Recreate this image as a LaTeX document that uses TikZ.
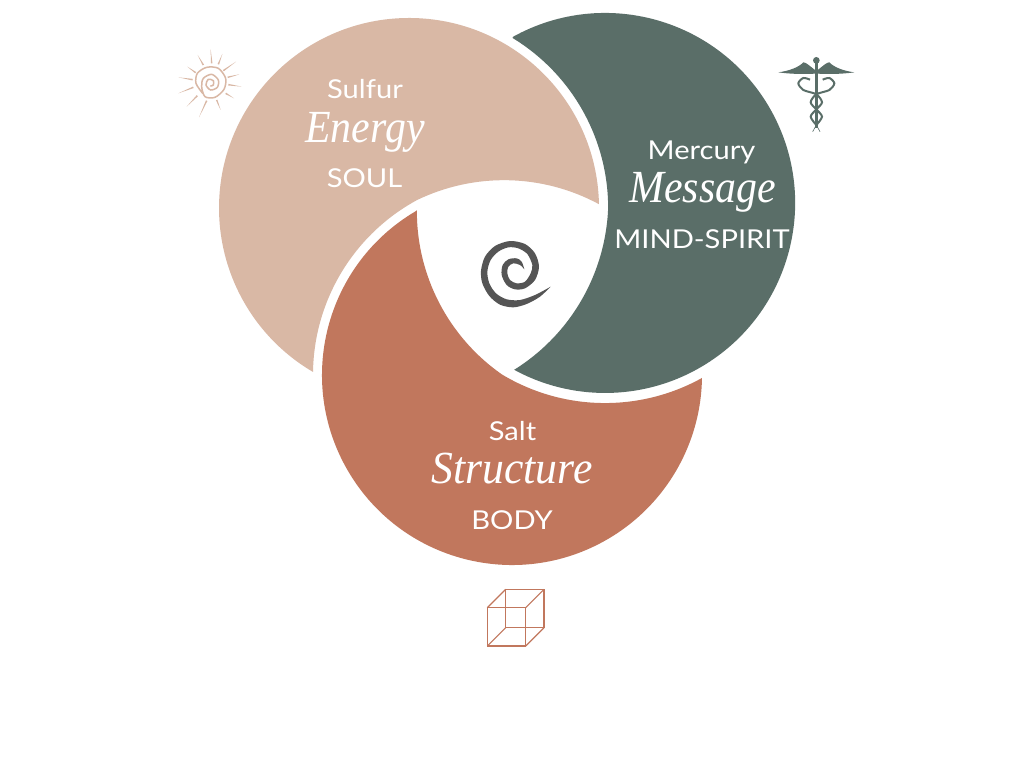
\documentclass[tikz,border=0pt]{standalone}
\usepackage{fontspec}
\usetikzlibrary{calc}
\newfontfamily\labelfont[FakeStretch=1.12]{Lato}
\newfontfamily\bigfontA[FakeStretch=0.91]{Liberation Serif}
\newfontfamily\bigfontB[FakeStretch=0.95]{Liberation Serif}
\definecolor{tanc}{HTML}{D9B8A5}
\definecolor{greenc}{HTML}{5A6E68}
\definecolor{saltc}{HTML}{C1775D}
\definecolor{spiralc}{HTML}{555555}
\tikzset{
  small/.style={text=white,inner sep=0pt,anchor=base,font=\labelfont\fontsize{26}{30}\selectfont},
  big/.style={text=white,inner sep=0pt,anchor=base,font=\bigfontA\itshape\fontsize{46}{52}\selectfont},
  bigwide/.style={text=white,inner sep=0pt,anchor=base,font=\bigfontB\itshape\fontsize{46}{52}\selectfont},
  ray/.style={fill=tanc,draw=none}
}
\begin{document}
\begin{tikzpicture}[x=1pt,y=1pt,yscale=-1]
\useasboundingbox (0,0) rectangle (1024,768);
\fill[white] (0,0) rectangle (1024,768);
% three shapes
\fill[tanc] (598.96,204) arc[start angle=-1.2,end angle=-239.65,radius=190]
  arc[start angle=180.86,end angle=241.5,radius=199]
  arc[start angle=244.24,end angle=298.3,radius=200] -- cycle;
\fill[greenc] (513,36.8) arc[start angle=241,end angle=478.6,radius=190]
  arc[start angle=58.04,end angle=2.26,radius=200]
  arc[start angle=0,end angle=-58.7,radius=199] -- cycle;
\fill[saltc] (416,211.04) arc[start angle=-120.35,end angle=-359.1,radius=190]
  arc[start angle=61,end angle=121,radius=200]
  arc[start angle=124.9,end angle=180.3,radius=199] -- cycle;
% centre spiral
\begin{scope}[shift={(470,230)},scale=1/3]
\fill[spiralc] plot[smooth] coordinates {(242,170) (210,200) (170,222) (130,232) (90,224) (58,198) (37,160) (33,122) (45,80) (75,48) (120,33) (165,42) (195,70) (207,110) (195,150) (165,175) (135,178) (110,165) (95,135) (98,105) (115,88) (140,85) (155,95) (163,118)}
 -- plot[smooth] coordinates {(163,118) (150,105) (130,100) (115,110) (112,130) (120,150) (140,160) (165,155) (182,130) (187,105) (172,72) (145,55) (115,52) (85,65) (62,90) (52,125) (58,160) (78,190) (110,208) (150,210) (195,195) (242,170)} -- cycle;
\end{scope}
% sun
\begin{scope}[shift={(160,30)},scale=1/3]
\foreach \tx/\ty/\bx/\by in {152/58/155/100,187/72/175/103,228/95/190/122,238/133/203/142,245/170/205/164,222/205/197/190,182/240/170/210,117/262/140/212,80/230/112/197,55/190/100/172,55/142/98/149,82/110/107/128,113/75/130/105}{
  \fill[ray] (\tx,\ty) -- ($(\bx,\by)!2.4pt!90:(\tx,\ty)$) -- ($(\bx,\by)!2.4pt!-90:(\tx,\ty)$) -- cycle;
}
\draw[tanc,line width=1.5pt,line cap=round] plot[smooth] coordinates {(128,190) (108,160) (112,130) (140,112) (175,115) (197,145) (192,178) (165,202) (135,200) (125,170) (130,145) (155,133) (175,150) (172,172) (152,180) (138,165) (145,148) (160,152) (160,165) (152,168)};
\end{scope}
% caduceus
\begin{scope}[shift={(770,45)},scale=1/3]
\fill[greenc] (139,46) circle (10);
\fill[greenc] (135,50) rectangle (143,250);
\fill[greenc] (135,75) .. controls (118,62) and (108,52) .. (100,52) .. controls (85,68) and (55,78) .. (25,82) .. controls (60,87) and (100,88) .. (135,86) -- cycle;
\fill[greenc] (143,75) .. controls (160,62) and (170,52) .. (178,52) .. controls (193,68) and (223,78) .. (253,82) .. controls (218,87) and (178,88) .. (143,86) -- cycle;
\draw[greenc,line width=2pt] plot[smooth] coordinates {(139,240) (122,215) (139,193) (156,172) (139,148) (100,135) (85,115) (100,99) (120,104)};
\draw[greenc,line width=2pt] plot[smooth] coordinates {(139,240) (156,215) (139,193) (122,172) (139,148) (178,135) (193,115) (178,99) (158,104)};
\draw[greenc,line width=.6pt] (139,240) -- (128,260) (139,240) -- (150,260);
\end{scope}
% cube
\begin{scope}[shift={(475,580)},scale=1/3]
\draw[saltc,line width=1.2pt] (37,83) rectangle (152,198);
\draw[saltc,line width=1.2pt] (92,28) rectangle (207,143);
\draw[saltc,line width=1.2pt] (37,83) -- (92,28) (152,83) -- (207,28) (37,198) -- (92,143) (152,198) -- (207,143);
\end{scope}
% labels
\node[small] (sulfur) at (365,98.2) {Sulfur};
\node[big] (energy) at (365,142) {Energy};
\node[small] (soul) at (364.5,187) {SOUL};
\node[small] (mercury) at (701.5,159) {Mercury};
\node[big] (message) at (702.5,202.7) {Message};
\node[small] (mind) at (702,248) {MIND-SPIRIT};
\node[small] (salt) at (512.5,440) {Salt};
\node[bigwide] (structure) at (512,483.7) {Structure};
\node[small] (body) at (512,529) {BODY};
\end{tikzpicture}
\end{document}
